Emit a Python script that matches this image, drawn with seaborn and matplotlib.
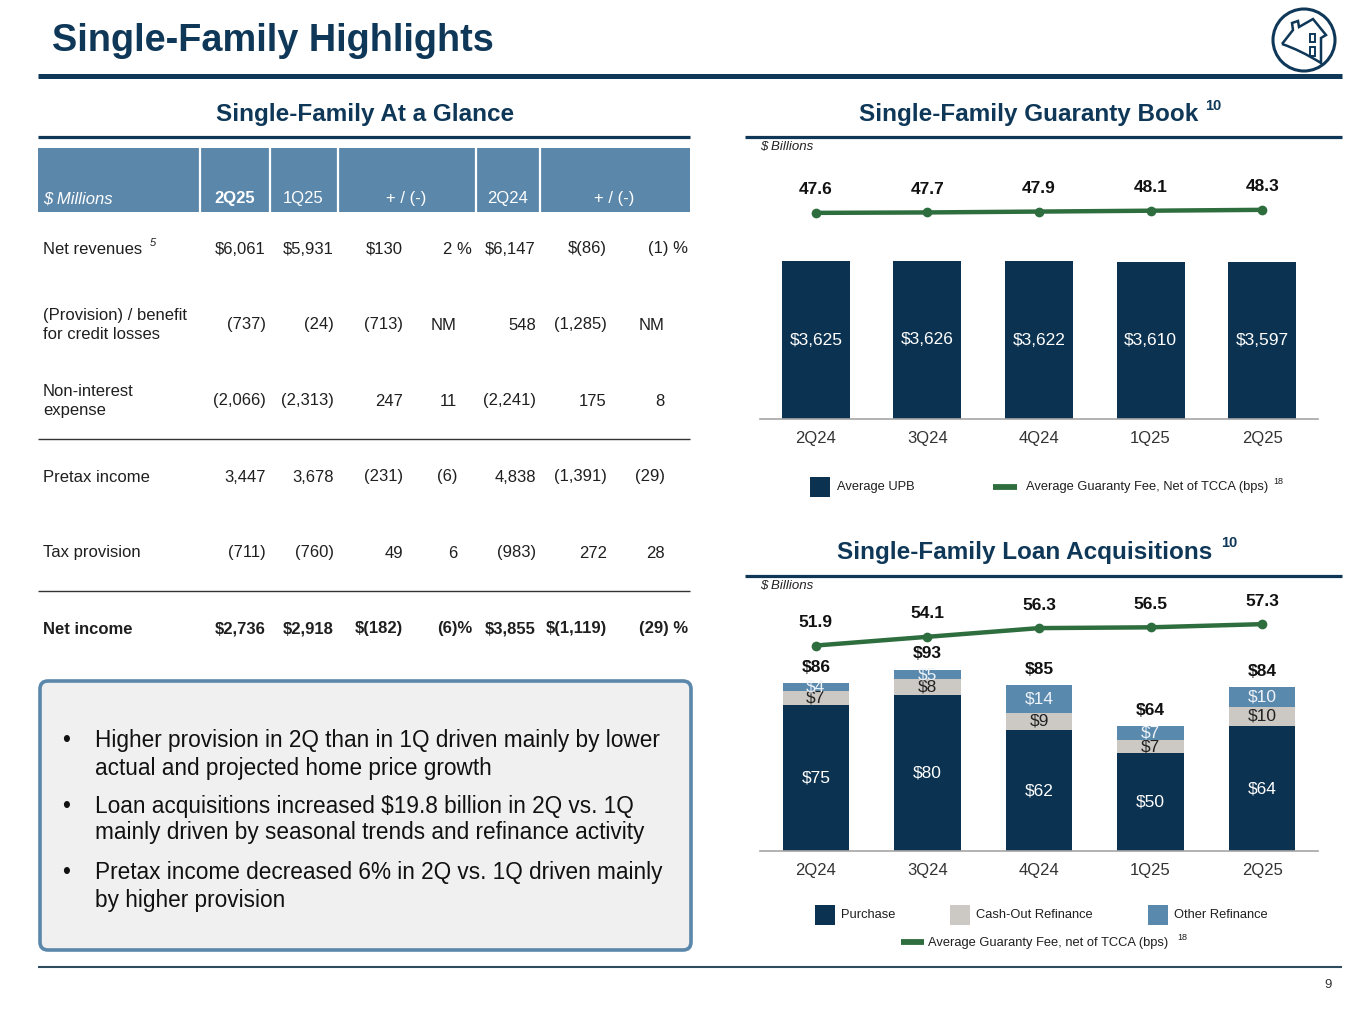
import numpy as np
import pandas as pd
import matplotlib
matplotlib.use("Agg")
import matplotlib.pyplot as plt
import seaborn as sns
from matplotlib.patches import FancyBboxPatch, Rectangle, Circle, PathPatch
from matplotlib.path import Path

# ---------------- data ----------------
quarters = ["2Q24", "3Q24", "4Q24", "1Q25", "2Q25"]
avg_upb = [3625, 3626, 3622, 3610, 3597]
gfee_book = [47.6, 47.7, 47.9, 48.1, 48.3]
purchase = [75, 80, 62, 50, 64]
cashout = [7, 8, 9, 7, 10]
other_refi = [4, 5, 14, 7, 10]
gfee_acq = [51.9, 54.1, 56.3, 56.5, 57.3]

table_header = ["$ Millions", "2Q25", "1Q25", "+ / (-)", "2Q24", "+ / (-)"]
row_labels = ["Net revenues", "(Provision) / benefit\nfor credit losses",
              "Non-interest\nexpense", "Pretax income", "Tax provision", "Net income"]
col_2q25 = ["$6,061", "(737)", "(2,066)", "3,447", "(711)", "$2,736"]
col_1q25 = ["$5,931", "(24)", "(2,313)", "3,678", "(760)", "$2,918"]
col_chg_q = ["$130", "(713)", "247", "(231)", "49", "$(182)"]
col_pct_q = ["2 %", "NM", "11", "(6)", "6", "(6)%"]
col_2q24 = ["$6,147", "548", "(2,241)", "4,838", "(983)", "$3,855"]
col_chg_y = ["$(86)", "(1,285)", "175", "(1,391)", "272", "$(1,119)"]
col_pct_y = ["(1) %", "NM", "8", "(29)", "28", "(29) %"]

bullets = [
    ["Higher provision in 2Q than in 1Q driven mainly by lower",
     "actual and projected home price growth"],
    ["Loan acquisitions increased $19.8 billion in 2Q vs. 1Q",
     "mainly driven by seasonal trends and refinance activity"],
    ["Pretax income decreased 6% in 2Q vs. 1Q driven mainly",
     "by higher provision"],
]

# ---------------- style ----------------
sns.set_theme(style="white")
plt.rcParams["font.family"] = ["Liberation Sans", "DejaVu Sans"]
plt.rcParams["text.parse_math"] = False

NAVY = "#0B3250"
TITLE = "#0E3758"
STEEL = "#5A89AE"
GRAY = "#CCC9C5"
GREEN = "#2E6E3E"
TXT = "#1F1F1F"

W, H = 1365, 1024
fig = plt.figure(figsize=(W / 100, H / 100), dpi=100)
fig.patch.set_facecolor("white")


def frect(l, t, r, b):
    return [l / W, 1 - b / H, (r - l) / W, (b - t) / H]


bg = fig.add_axes([0, 0, 1, 1])
bg.set_xlim(0, W)
bg.set_ylim(H, 0)
bg.axis("off")


def T(x, y, s, **kw):
    d = dict(va="center", fontsize=12, color=TXT)
    d.update(kw)
    return bg.text(x, y, s, **d)


def hline(y, x0, x1, lw, color=TITLE):
    bg.plot([x0, x1], [y, y], color=color, lw=lw, solid_capstyle="butt")


# ---------------- title & frame ----------------
T(52, 41, "Single-Family Highlights", fontsize=27.3, fontweight="bold", color=TITLE)
hline(76, 38, 1342, 3.6)
hline(967, 38, 1342, 1.5, color="#2F4B5E")
T(1332, 985, "9", fontsize=9.5, ha="right", color="#333333")

# logo
bg.add_patch(Circle((1304, 40), 31, fill=False, ec=TITLE, lw=2.2))
verts = [(1282, 44), (1293, 30), (1292, 23), (1298, 21), (1299, 27), (1313, 19),
         (1326, 35), (1321, 38), (1321, 63), (1300, 50), (1282, 44)]
codes = [Path.MOVETO] + [Path.LINETO] * 8 + [Path.CURVE3, Path.CURVE3]
bg.add_patch(PathPatch(Path(verts, codes), fill=False, ec=TITLE, lw=1.8))
bg.add_patch(Rectangle((1310, 34), 5, 8, fill=False, ec=TITLE, lw=1.4))
bg.add_patch(Rectangle((1310, 47), 5, 9, fill=False, ec=TITLE, lw=1.4))

# ---------------- section headers ----------------
T(365, 115, "Single-Family At a Glance", fontsize=17.5, fontweight="bold", color=TITLE, ha="center")
hline(137, 38, 690, 2.3)
T(1029, 115, "Single-Family Guaranty Book", fontsize=17.5, fontweight="bold", color=TITLE, ha="center")
T(1205, 106, "10", fontsize=10.5, fontweight="bold", color=TITLE)
hline(137, 745, 1342, 2.3)
T(1025, 552, "Single-Family Loan Acquisitions", fontsize=17.5, fontweight="bold", color=TITLE, ha="center")
T(1221, 543, "10", fontsize=10.5, fontweight="bold", color=TITLE)
hline(576, 745, 1342, 2.3)
T(760, 147, "$ Billions", fontsize=9.5, style="italic", color="#222222")
T(760, 586, "$ Billions", fontsize=9.5, style="italic", color="#222222")

# ---------------- table ----------------
bg.add_patch(Rectangle((38, 148), 652, 64, color="#5B87AA", lw=0))
for xs in [200, 270, 338, 476, 540]:
    bg.plot([xs, xs], [148, 212], color="white", lw=1.6)
hdr_x = [43, 235, 303, 406, 508, 614]
for i, (hx, h) in enumerate(zip(hdr_x, table_header)):
    if i == 0:
        T(hx, 199, h, color="white", style="italic")
    else:
        T(hx, 199, h, color="white", ha="center", fontweight="bold" if i == 1 else "normal")

row_y = [249, 325, 401, 477, 553, 629]
cols = [col_2q25, col_1q25, col_chg_q, col_pct_q, col_2q24, col_chg_y, col_pct_y]
col_right = [266, 334, 403, None, 536, 607, None]
for r, (ry, lab) in enumerate(zip(row_y, row_labels)):
    bold = "bold" if r == len(row_labels) - 1 else "normal"
    T(43, ry, lab, fontweight=bold, linespacing=1.32)
    for c, col in enumerate(cols):
        s = col[r]
        if c == 3:
            xr = 472 if "%" in s else 457
        elif c == 6:
            xr = 688 if "%" in s else 665
        else:
            xr = col_right[c]
        T(xr, ry, s, ha="right", fontweight=bold)
T(150, 243, "5", fontsize=8, style="italic")
hline(439, 38, 690, 1.0, color="#333333")
hline(591, 38, 690, 1.0, color="#333333")

# ---------------- bullet box ----------------
bg.add_patch(FancyBboxPatch((40, 681), 651, 269, boxstyle="round,pad=0,rounding_size=8",
                            fc="#F0F0F0", ec="#5B87AA", lw=2.6))
by = [[741, 768], [806, 833], [873, 900]]
for lines, ys in zip(bullets, by):
    T(62, ys[0], "•", fontsize=16.3, color="#111111")
    for ln, yy in zip(lines, ys):
        T(95, yy, ln, fontsize=16.3, color="#111111")

# ---------------- chart 1: guaranty book ----------------
df1 = pd.DataFrame({"quarter": quarters, "upb": avg_upb, "fee": gfee_book})
ax1 = fig.add_axes(frect(760, 170, 1318, 419))
ax1.set_facecolor("none")
sns.barplot(data=df1, x="quarter", y="upb", color=NAVY, saturation=1, width=0.61,
            linewidth=0, ax=ax1)
ax1.set_xlim(-0.5, 4.5)
ax1.set_ylim(0, 5713)
for i, v in enumerate(avg_upb):
    ax1.text(i, v / 2, f"${v:,}", ha="center", va="center", color="white", fontsize=12.5)
ax1b = ax1.twinx()
sns.lineplot(x=np.arange(len(quarters)), y=gfee_book, ax=ax1b, color=GREEN, lw=3.2,
             marker="o", markersize=7, markeredgewidth=0)
ax1b.set_ylim(0, 57.5)
for i, v in enumerate(gfee_book):
    ax1b.annotate(f"{v:.1f}", (i, v), xytext=(0, 16.5), textcoords="offset points",
                  ha="center", va="center", fontsize=12.5, fontweight="bold", color="#111111")

# ---------------- chart 2: loan acquisitions ----------------
df2 = pd.DataFrame({"quarter": quarters, "purchase": purchase, "cashout": cashout,
                    "other": other_refi, "fee": gfee_acq})
df2["pc"] = df2["purchase"] + df2["cashout"]
df2["total"] = df2["pc"] + df2["other"]
ax2 = fig.add_axes(frect(760, 600, 1318, 851))
ax2.set_facecolor("none")
for col, colr in [("total", STEEL), ("pc", GRAY), ("purchase", NAVY)]:
    sns.barplot(data=df2, x="quarter", y=col, color=colr, saturation=1, width=0.595,
                linewidth=0, ax=ax2)
ax2.set_xlim(-0.5, 4.5)
ax2.set_ylim(0, 128.7)
for i in range(len(quarters)):
    p, c, o, t = df2.loc[i, ["purchase", "cashout", "other", "total"]]
    ax2.text(i, p / 2, f"${p}", ha="center", va="center", color="white", fontsize=12.5)
    ax2.text(i, p + c / 2, f"${c}", ha="center", va="center", color="#222222", fontsize=12.5)
    ax2.text(i, p + c + o / 2, f"${o}", ha="center", va="center", color="#EEF3F8", fontsize=12.5)
    ax2.annotate(f"${t}", (i, t), xytext=(0, 11.5), textcoords="offset points",
                 ha="center", va="center", fontsize=12.5, fontweight="bold", color="#111111")
ax2b = ax2.twinx()
sns.lineplot(x=np.arange(len(quarters)), y=gfee_acq, ax=ax2b, color=GREEN, lw=3.2,
             marker="o", markersize=7, markeredgewidth=0)
ax2b.set_ylim(0, 63.4)
for i, v in enumerate(gfee_acq):
    ax2b.annotate(f"{v:.1f}", (i, v), xytext=(0, 16.5), textcoords="offset points",
                  ha="center", va="center", fontsize=12.5, fontweight="bold", color="#111111")

for ax in (ax1, ax2):
    ax.set_xlabel("")
    ax.set_ylabel("")
    ax.set_yticks([])
    ax.tick_params(axis="x", length=0, pad=9, labelsize=12, labelcolor="#333333")
    for s in ("top", "right", "left"):
        ax.spines[s].set_visible(False)
    ax.spines["bottom"].set_color("#A6A6A6")
    ax.spines["bottom"].set_linewidth(1.2)
for ax in (ax1b, ax2b):
    ax.set_yticks([])
    ax.set_ylabel("")
    ax.set_xlim(-0.5, 4.5)
    for s in ax.spines.values():
        s.set_visible(False)

# ---------------- legends ----------------
LEG = 9.3
bg.add_patch(Rectangle((810, 477), 20, 20, color=NAVY, lw=0))
T(837, 487, "Average UPB", fontsize=LEG)
bg.plot([993, 1017], [487, 487], color=GREEN, lw=4.2, solid_capstyle="butt")
T(1026, 487, "Average Guaranty Fee, Net of TCCA (bps)", fontsize=LEG)
T(1273, 481, "18", fontsize=6.5)

for x0, lab, colr in [(815, "Purchase", NAVY), (950, "Cash-Out Refinance", GRAY),
                      (1148, "Other Refinance", STEEL)]:
    bg.add_patch(Rectangle((x0, 905), 20, 20, color=colr, lw=0))
    T(x0 + 26, 915, lab, fontsize=LEG)
bg.plot([901, 924], [942, 942], color=GREEN, lw=4.2, solid_capstyle="butt")
T(928, 943, "Average Guaranty Fee, net of TCCA (bps)", fontsize=LEG)
T(1177, 937, "18", fontsize=6.5)

fig.savefig("out.png", dpi=100, facecolor="white")
